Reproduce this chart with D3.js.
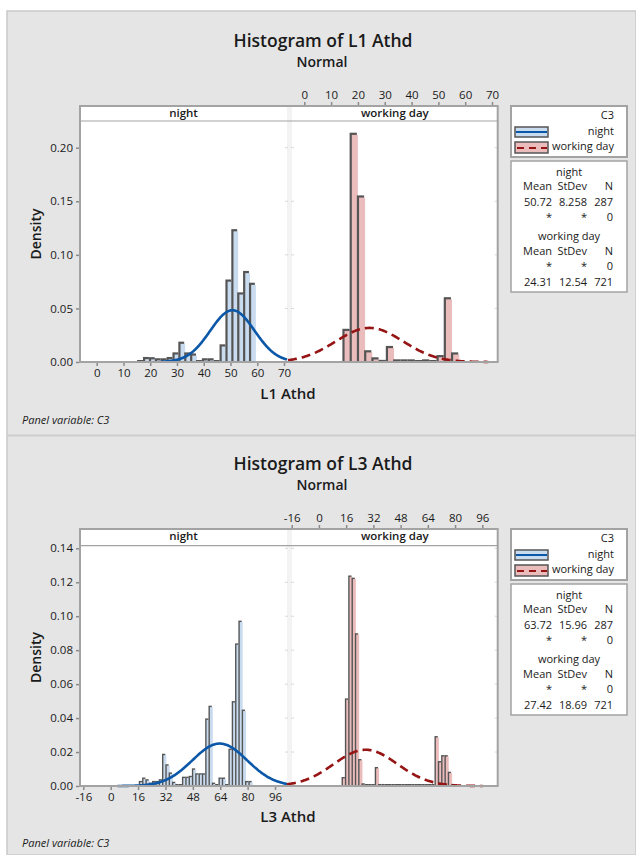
<!DOCTYPE html>
<html>
<head>
<meta charset="utf-8">
<script src="https://cdn.jsdelivr.net/npm/d3@7"></script>
<style>
  html, body { margin: 0; padding: 0; background: #fff; }
  svg { display: block; font-family: "Open Sans", "Noto Sans", sans-serif; }
</style>
</head>
<body>
<script>
// ---------------- DATA ----------------
const panelNames = ["night", "working day"];
const legendTitle = "C3";

// L1 Athd
const l1Title = "Histogram of L1 Athd";
const l1XLabel = "L1 Athd";
const l1YTicks = [0, 0.05, 0.10, 0.15, 0.20];
const l1XTicks = [0, 10, 20, 30, 40, 50, 60, 70];
const l1NightEdges = [15.1, 17.3, 19.5, 21.7, 23.9, 26.1, 28.3, 30.5, 32.7, 34.9, 37.1, 39.3, 41.5, 43.7, 45.9, 48.1, 50.3, 52.5, 54.7, 56.9, 59.1];
const l1NightDensity = [0.0008, 0.0047, 0.0045, 0.0035, 0.0035, 0.0047, 0.009, 0.019, 0.009, 0.008, 0.0008, 0.0035, 0.0035, 0.0008, 0.0165, 0.077, 0.124, 0.065, 0.085, 0.074];
const l1WorkEdges = [14.2, 16.9, 19.6, 22.3, 25.0, 27.7, 30.4, 33.1, 35.8, 38.5, 41.2, 43.9, 46.6, 49.3, 52.0, 54.7, 57.4];
const l1WorkDensity = [0.031, 0.214, 0.1555, 0.011, 0.0044, 0.002, 0.015, 0.0025, 0.0025, 0.0025, 0.0005, 0.0025, 0.0005, 0.0065, 0.0605, 0.009];
const l1NightStats = { mean: 50.72, sd: 8.258, n: 287, meanText: "50.72", sdText: "8.258" };
const l1WorkStats = { mean: 24.31, sd: 12.54, n: 721, meanText: "24.31", sdText: "12.54" };

// L3 Athd
const l3Title = "Histogram of L3 Athd";
const l3XLabel = "L3 Athd";
const l3YTicks = [0, 0.02, 0.04, 0.06, 0.08, 0.10, 0.12, 0.14];
const l3XTicks = [-16, 0, 16, 32, 48, 64, 80, 96];
const l3NightEdges = [16.4, 18.34, 20.28, 22.22, 24.16, 26.1, 28.04, 29.98, 31.92, 33.86, 35.8, 37.74, 39.68, 41.62, 43.56, 45.5, 47.44, 49.38, 51.32, 53.26, 55.2, 57.14, 59.08, 61.02, 62.96, 64.9, 66.84, 68.78, 70.72, 72.66, 74.6, 76.54, 78.48, 80.42, 82.36];
const l3NightDensity = [0.003, 0.005, 0.004, 0.002, 0.003, 0.003, 0.004, 0.019, 0.0128, 0.008, 0.0025, 0.001, 0.0005, 0.0055, 0.0055, 0.006, 0.0104, 0.0075, 0.0075, 0.0075, 0.0398, 0.0473, 0.002, 0.001, 0.005, 0.005, 0.001, 0.022, 0.050, 0.084, 0.0974, 0.045, 0.003, 0.003];
const l3WorkEdges = [13.3, 15.25, 17.2, 19.15, 21.1, 23.05, 25.0, 26.95, 28.9, 30.85, 32.8, 34.75, 36.7, 38.65, 40.6, 42.55, 44.5, 46.45, 48.4, 50.35, 52.3, 54.25, 56.2, 58.15, 60.1, 62.05, 64.0, 65.95, 67.9, 69.85, 71.8, 73.75, 75.7, 77.65, 79.6];
const l3WorkDensity = [0.0053, 0.0516, 0.124, 0.1227, 0.090, 0.0159, 0.0016, 0.0008, 0.0008, 0.0008, 0.0112, 0.0012, 0.0012, 0.0005, 0.0005, 0.0005, 0.0005, 0.0005, 0.0005, 0.0005, 0.0005, 0.0005, 0.0005, 0.0005, 0.0005, 0.0005, 0.0005, 0.0012, 0.0294, 0.0147, 0.0182, 0.0182, 0.0084, 0.001];
const l3NightStats = { mean: 63.72, sd: 15.96, n: 287, meanText: "63.72", sdText: "15.96" };
const l3WorkStats = { mean: 27.42, sd: 18.69, n: 721, meanText: "27.42", sdText: "18.69" };

// ---------------- STYLE / LAYOUT ----------------
const W = 636, H = 855;
const C = {
  bg: "#e5e5e5", frame: "#a3a3a3", text: "#1a1a1a", shadow: "#555555",
  nightFill: "#c9dbef", workFill: "#ebbcbc", nightLine: "#0b57a8", workLine: "#961414",
  sep: "#f3f3f3"
};

const charts = [
  {
    oy: 0, title: l1Title, xLabel: l1XLabel, yTicks: l1YTicks, yFmt: d3.format(".2f"),
    y: d3.scaleLinear().domain([0, 0.20]).range([362, 147.7]),
    xNight: d3.scaleLinear().domain([0, 70]).range([96.7, 284]),
    xWork: d3.scaleLinear().domain([0, 70]).range([304.3, 492]),
    xTicks: l1XTicks,
    night: { edges: l1NightEdges, dens: l1NightDensity, stats: l1NightStats, curve: [24, 71.1] },
    work: { edges: l1WorkEdges, dens: l1WorkDensity, stats: l1WorkStats, curve: [-6.1, 68.6] },
    baseline: 362, strip: 121
  },
  {
    oy: 423, title: l3Title, xLabel: l3XLabel, yTicks: l3YTicks, yFmt: d3.format(".2f"),
    y: d3.scaleLinear().domain([0, 0.14]).range([363, 125.3]),
    xNight: d3.scaleLinear().domain([-16, 96]).range([83.3, 275]),
    xWork: d3.scaleLinear().domain([-16, 96]).range([291.7, 482.3]),
    xTicks: l3XTicks,
    night: { edges: l3NightEdges, dens: l3NightDensity, stats: l3NightStats, curve: [4, 103] },
    work: { edges: l3WorkEdges, dens: l3WorkDensity, stats: l3WorkStats, curve: [-18.8, 96.3] },
    baseline: 363, strip: 122.7
  }
];

const svg = d3.select("body").append("svg").attr("width", W).attr("height", H);
svg.append("rect").attr("width", W).attr("height", H).attr("fill", "#fff");
svg.append("rect").attr("x", 7).attr("y", 11).attr("width", W - 7).attr("height", H - 11)
  .attr("fill", C.bg).attr("stroke", "#c9c9c9").attr("stroke-width", 1.5);
svg.append("line").attr("x1", 7).attr("x2", W).attr("y1", 435.5).attr("y2", 435.5)
  .attr("stroke", "#cdcdcd").attr("stroke-width", 2);

const normal = (m, s) => v => Math.exp(-0.5 * ((v - m) / s) ** 2) / (s * Math.sqrt(2 * Math.PI));

function drawBars(g, x, y, edges, dens, fill) {
  const base = y(0);
  const bins = dens.map((d, i) => ({ x0: edges[i], x1: edges[i + 1], d }));
  bins.forEach(b => {
    const X0 = x(b.x0), X1 = x(b.x1);
    const w = X1 - X0;
    const sh = Math.min(2.2, w * 0.42);
    const Y = Math.min(y(b.d), base - 2);
    g.append("rect").attr("x", X0).attr("y", Y).attr("width", w).attr("height", base - Y)
      .attr("fill", C.shadow);
    g.append("rect").attr("x", X0 + sh).attr("y", Y + sh).attr("width", Math.max(0, w - sh + 1))
      .attr("height", Math.max(0, base - Y - sh)).attr("fill", fill);
  });
}

function drawCurve(g, x, y, stats, range, color, dashed) {
  const f = normal(stats.mean, stats.sd);
  const pts = d3.range(0, 201).map(i => range[0] + (range[1] - range[0]) * i / 200);
  const line = d3.line().x(v => x(v)).y(v => y(f(v)));
  const p = g.append("path").datum(pts).attr("d", line).attr("fill", "none")
    .attr("stroke", color).attr("stroke-width", 2.6);
  if (dashed) p.attr("stroke-dasharray", "9,5");
}

charts.forEach(ch => {
  const g = svg.append("g").attr("transform", `translate(0,${ch.oy})`);
  const L = 80, R = 497.7, T = 106, B = ch.baseline, gapL = 287, gapR = 292;

  // titles
  g.append("text").attr("x", 323).attr("y", 47).attr("text-anchor", "middle")
    .attr("font-size", 17.5).attr("font-weight", 600).attr("fill", C.text).text(ch.title);
  g.append("text").attr("x", 322).attr("y", 67).attr("text-anchor", "middle")
    .attr("font-size", 14).attr("font-weight", 600).attr("fill", C.text).text("Normal");

  // plot area
  g.append("rect").attr("x", L).attr("y", T).attr("width", R - L).attr("height", B - T).attr("fill", "#fff");
  g.append("rect").attr("x", gapL).attr("y", T + 1).attr("width", gapR - gapL).attr("height", B - T - 1).attr("fill", C.sep);
  g.append("line").attr("x1", L).attr("x2", R).attr("y1", ch.strip).attr("y2", ch.strip)
    .attr("stroke", C.frame).attr("stroke-width", 1.2);
  g.append("text").attr("x", (L + gapL) / 2).attr("y", T + 11).attr("text-anchor", "middle")
    .attr("font-size", 11.5).attr("font-weight", 600).attr("fill", C.text).text(panelNames[0]);
  g.append("text").attr("x", (gapR + R) / 2).attr("y", T + 11).attr("text-anchor", "middle")
    .attr("font-size", 11.5).attr("font-weight", 600).attr("fill", C.text).text(panelNames[1]);

  // inner tick marks at panel edges
  ch.yTicks.forEach(t => {
    [gapL - 2, gapR - 1, R - 3].forEach(xx => {
      g.append("line").attr("x1", xx).attr("x2", xx + 3).attr("y1", ch.y(t)).attr("y2", ch.y(t))
        .attr("stroke", "#d8d8d8").attr("stroke-width", 1);
    });
  });

  // bars
  drawBars(g, ch.xNight, ch.y, ch.night.edges, ch.night.dens, C.nightFill);
  drawBars(g, ch.xWork, ch.y, ch.work.edges, ch.work.dens, C.workFill);

  // curves
  drawCurve(g, ch.xNight, ch.y, ch.night.stats, ch.night.curve, C.nightLine, false);
  drawCurve(g, ch.xWork, ch.y, ch.work.stats, ch.work.curve, C.workLine, true);

  // frame
  g.append("rect").attr("x", L).attr("y", T).attr("width", R - L).attr("height", B - T)
    .attr("fill", "none").attr("stroke", C.frame).attr("stroke-width", 2);

  // axes
  const styleAxis = a => {
    a.select(".domain").remove();
    a.selectAll(".tick line").attr("stroke", "#8a8a8a").attr("stroke-width", 1.5);
    a.selectAll(".tick text").attr("fill", C.text).attr("font-size", 11.5).attr("font-family", "Open Sans, Noto Sans, sans-serif");
  };
  const intFmt = d => String(d);
  const ya = g.append("g").attr("transform", `translate(${L - 1},0)`)
    .call(d3.axisLeft(ch.y).tickValues(ch.yTicks).tickFormat(ch.yFmt).tickSize(3).tickPadding(3));
  styleAxis(ya);
  const xa = g.append("g").attr("transform", `translate(0,${B + 1})`)
    .call(d3.axisBottom(ch.xNight).tickValues(ch.xTicks).tickFormat(intFmt).tickSize(3).tickPadding(3));
  styleAxis(xa);
  const xt = g.append("g").attr("transform", `translate(0,${T - 1})`)
    .call(d3.axisTop(ch.xWork).tickValues(ch.xTicks).tickFormat(intFmt).tickSize(3).tickPadding(3));
  styleAxis(xt);

  // axis labels
  g.append("text").attr("x", 288).attr("y", 399).attr("text-anchor", "middle")
    .attr("font-size", 15).attr("font-weight", 600).attr("fill", C.text).text(ch.xLabel);
  g.append("text").attr("transform", `translate(41,${(T + B) / 2}) rotate(-90)`).attr("text-anchor", "middle")
    .attr("font-size", 14).attr("font-weight", 600).attr("fill", C.text).text("Density");
  g.append("text").attr("x", 22).attr("y", 424).attr("font-size", 11).attr("font-style", "italic")
    .attr("fill", C.text).text("Panel variable: C3");

  // legend box
  const lg = g.append("g");
  lg.append("rect").attr("x", 511).attr("y", 106).attr("width", 116).attr("height", 51)
    .attr("fill", "#fff").attr("stroke", C.frame).attr("stroke-width", 2);
  lg.append("text").attr("x", 614).attr("y", 119).attr("text-anchor", "end").attr("font-size", 11)
    .attr("fill", C.text).text(legendTitle);
  lg.append("rect").attr("x", 515).attr("y", 127).attr("width", 33).attr("height", 10)
    .attr("fill", C.nightFill).attr("stroke", C.shadow).attr("stroke-width", 1.5);
  lg.append("line").attr("x1", 516).attr("x2", 547).attr("y1", 132).attr("y2", 132)
    .attr("stroke", C.nightLine).attr("stroke-width", 2);
  lg.append("text").attr("x", 614).attr("y", 134.5).attr("text-anchor", "end").attr("font-size", 11)
    .attr("fill", C.text).text(panelNames[0]);
  lg.append("rect").attr("x", 515).attr("y", 142).attr("width", 33).attr("height", 11)
    .attr("fill", C.workFill).attr("stroke", C.shadow).attr("stroke-width", 1.5);
  lg.append("line").attr("x1", 517).attr("x2", 547).attr("y1", 148).attr("y2", 148)
    .attr("stroke", C.workLine).attr("stroke-width", 2).attr("stroke-dasharray", "7,5");
  lg.append("text").attr("x", 614).attr("y", 149.5).attr("text-anchor", "end").attr("font-size", 11)
    .attr("fill", C.text).text(panelNames[1]);

  // stats box
  const sg = g.append("g").attr("font-size", 11).attr("fill", C.text);
  sg.append("rect").attr("x", 511).attr("y", 161).attr("width", 116).attr("height", 131)
    .attr("fill", "#fff").attr("stroke", C.frame).attr("stroke-width", 1.5);
  const cols = [552, 587, 613];
  const row = (yy, vals) => vals.forEach((v, i) => sg.append("text").attr("x", cols[i]).attr("y", yy)
    .attr("text-anchor", "end").text(v));
  const s1 = ch.night.stats, s2 = ch.work.stats;
  sg.append("text").attr("x", 569).attr("y", 176).attr("text-anchor", "middle").text(panelNames[0]);
  row(190, ["Mean", "StDev", "N"]);
  row(206, [s1.meanText, s1.sdText, String(s1.n)]);
  row(221, ["*", "*", "0"]);
  sg.append("text").attr("x", 569).attr("y", 240).attr("text-anchor", "middle").text(panelNames[1]);
  row(255, ["Mean", "StDev", "N"]);
  row(270, ["*", "*", "0"]);
  row(286, [s2.meanText, s2.sdText, String(s2.n)]);
});
</script>
</body>
</html>
